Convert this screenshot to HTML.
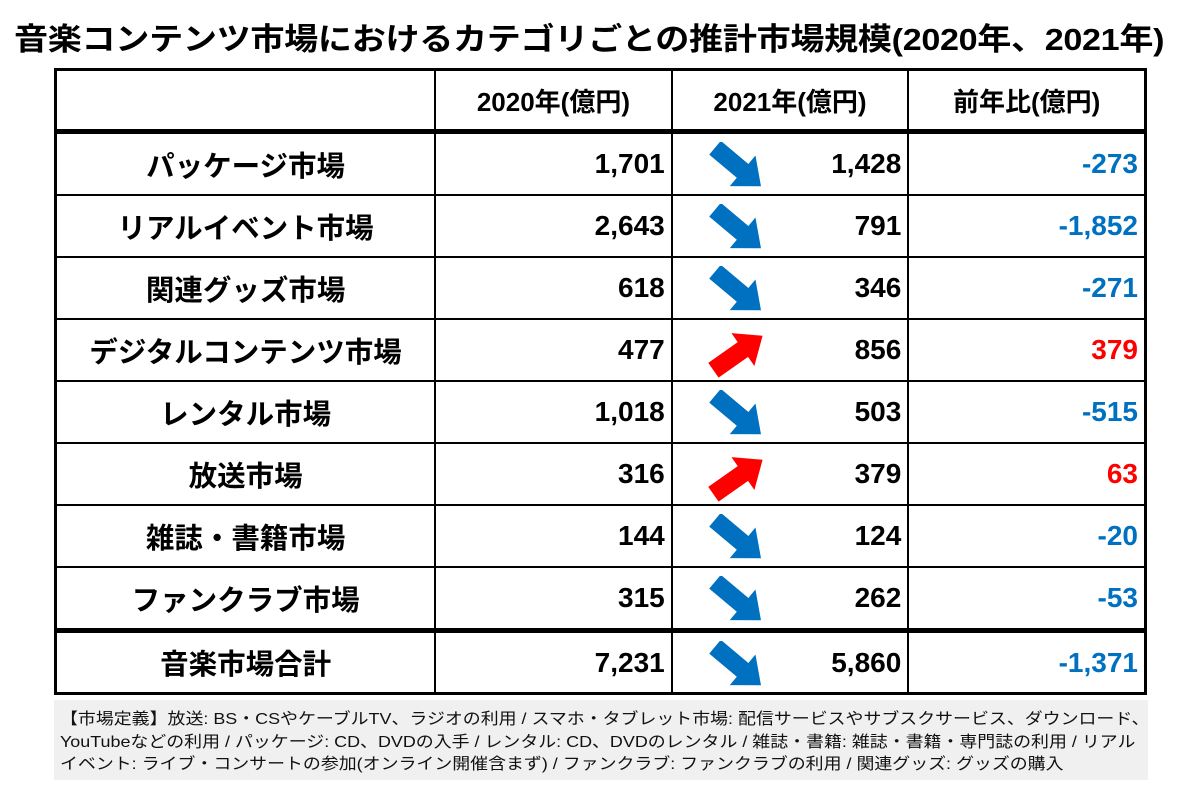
<!DOCTYPE html>
<html><head><meta charset="utf-8"><style>
body{margin:0;width:1200px;height:785px;background:#fff;position:relative;overflow:hidden;font-family:"Liberation Sans","Noto Sans CJK JP",sans-serif;}
.t{position:absolute;left:14px;top:14px;font-size:31px;font-weight:bold;color:#000;white-space:nowrap;transform-origin:left top;transform:scaleX(1.1);letter-spacing:-0.3px}
table{position:absolute;left:54px;top:68px;border-collapse:collapse;width:1093px;border:3px solid #000}
td{border:2px solid #000;height:60px;padding:0;font-weight:bold;font-size:28px;}
td.l{text-align:center;font-size:28.5px;width:380px}
td.n{text-align:right;padding-right:6px;width:230px;position:relative}
tr.h td{text-align:center;font-size:26px;height:58px;padding-right:0;border-bottom:5px solid #000}
tr.tot td{border-top:5px solid #000;height:59px}
.b{color:#0070c0}.r{color:#f00}
svg.a{position:absolute;left:30px;top:8px}
.f{position:absolute;left:54px;top:700px;width:1094px;height:80px;background:#f0f0f0;}
.f div{position:absolute;left:6px;top:9px;font-size:16px;line-height:22.5px;white-space:nowrap;color:#111;transform-origin:left top;transform:scaleX(1.12)}
</style></head><body>
<div class="t">音楽コンテンツ市場におけるカテゴリごとの推計市場規模(2020年、2021年)</div>
<table>
<tr class="h"><td class="l"></td><td>2020年(億円)</td><td>2021年(億円)</td><td>前年比(億円)</td></tr>
<tr><td class="l">パッケージ市場</td><td class="n">1,701</td><td class="n">DN1,428</td><td class="n b">-273</td></tr>
<tr><td class="l">リアルイベント市場</td><td class="n">2,643</td><td class="n">DN791</td><td class="n b">-1,852</td></tr>
<tr><td class="l">関連グッズ市場</td><td class="n">618</td><td class="n">DN346</td><td class="n b">-271</td></tr>
<tr><td class="l">デジタルコンテンツ市場</td><td class="n">477</td><td class="n">UP856</td><td class="n r">379</td></tr>
<tr><td class="l">レンタル市場</td><td class="n">1,018</td><td class="n">DN503</td><td class="n b">-515</td></tr>
<tr><td class="l">放送市場</td><td class="n">316</td><td class="n">UP379</td><td class="n r">63</td></tr>
<tr><td class="l">雑誌・書籍市場</td><td class="n">144</td><td class="n">DN124</td><td class="n b">-20</td></tr>
<tr><td class="l">ファンクラブ市場</td><td class="n">315</td><td class="n">DN262</td><td class="n b">-53</td></tr>
<tr class="tot"><td class="l">音楽市場合計</td><td class="n">7,231</td><td class="n">DN5,860</td><td class="n b">-1,371</td></tr>
</table>
<div class="f"><div>【市場定義】放送: BS・CSやケーブルTV、ラジオの利用 / スマホ・タブレット市場: 配信サービスやサブスクサービス、ダウンロード、<br>YouTubeなどの利用 / パッケージ: CD、DVDの入手 / レンタル: CD、DVDのレンタル / 雑誌・書籍: 雑誌・書籍・専門誌の利用 / リアル<br>イベント: ライブ・コンサートの参加(オンライン開催含まず) / ファンクラブ: ファンクラブの利用 / 関連グッズ: グッズの購入</div></div>
<script>
var dn='<svg class="a" width="70" height="50" viewBox="-35 -25 70 50"><g transform="rotate(40)"><polygon points="-30,-9 6,-9 6,-20 30,0 6,20 6,9 -30,9" fill="#0070c0"/></g></svg>';
var up='<svg class="a" width="70" height="50" viewBox="-35 -25 70 50"><g transform="rotate(-35)"><polygon points="-30,-9 6,-9 6,-20 30,0 6,20 6,9 -30,9" fill="#f00"/></g></svg>';
document.querySelectorAll('td.n').forEach(function(td){var s=td.textContent;if(s.indexOf('DN')==0){td.innerHTML=dn+s.slice(2);}else if(s.indexOf('UP')==0){td.innerHTML=up+s.slice(2);}});
</script>
</body></html>
